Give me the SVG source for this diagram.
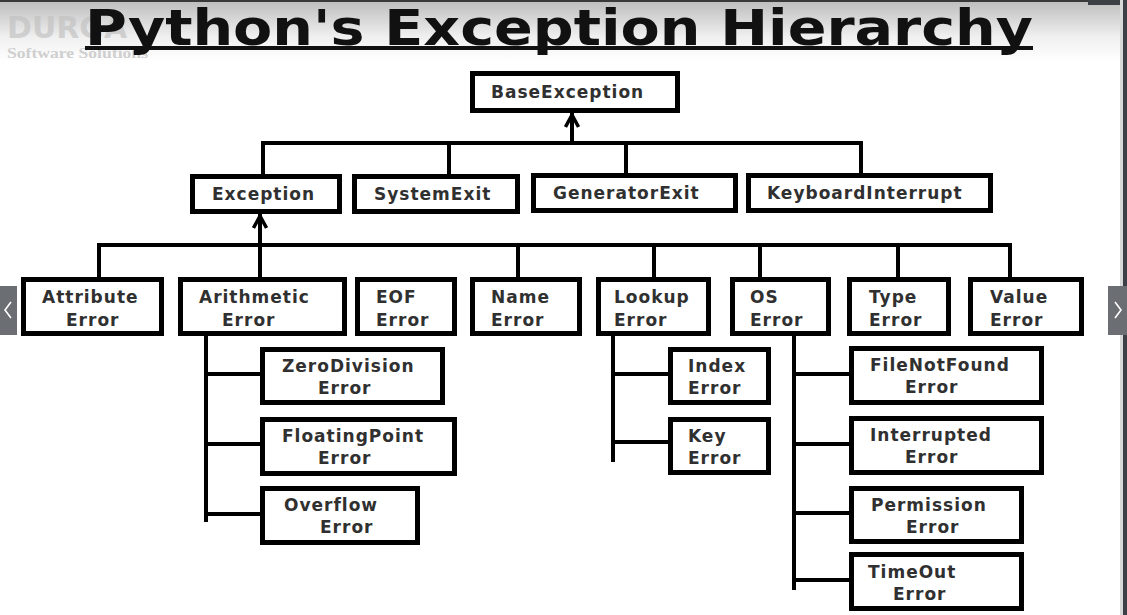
<svg xmlns="http://www.w3.org/2000/svg" width="1127" height="615" viewBox="0 0 1127 615">
<defs>
<linearGradient id="topg" x1="0" y1="0" x2="0" y2="1">
<stop offset="0" stop-color="#bcbcbc"/>
<stop offset="0.6" stop-color="#f0f0f0"/>
<stop offset="1" stop-color="#ffffff"/>
</linearGradient>
<marker id="arr" viewBox="0 0 16 16" markerWidth="16" markerHeight="16" markerUnits="userSpaceOnUse" refX="14" refY="8" orient="auto">
<path d="M2,1.5 L14,8 L2,14.5" fill="none" stroke="#000" stroke-width="3.5" stroke-linejoin="miter"/>
</marker>
<style>
.box{fill:#fff;stroke:#000;stroke-width:5}
.t{font-family:"DejaVu Sans","Liberation Sans",sans-serif;font-weight:bold;font-size:17px;letter-spacing:1px;fill:#303030}
.c{stroke:#000;stroke-width:4;fill:none;stroke-linecap:square}
.nav{fill:#6b6e73}
.chev{fill:none;stroke:#fff;stroke-width:1.6}
</style>
</defs>
<rect x="0" y="0" width="1127" height="615" fill="#fff"/>
<rect x="0" y="0" width="1127" height="62" fill="url(#topg)"/>
<rect x="0" y="0" width="1127" height="2" fill="#3a3a3a"/>
<rect x="1088" y="0" width="39" height="5" fill="#3c4046"/>
<rect x="1120" y="0" width="3" height="615" fill="#d8d8d8"/>
<rect x="1123" y="0" width="4" height="615" fill="#3c4046"/>

<g id="watermark">
<text x="7" y="38" font-family="DejaVu Sans, sans-serif" font-weight="bold" font-size="30" fill="#c2c2c2" fill-opacity="0.7">DURGA</text>
<text x="7" y="58" font-family="Liberation Serif, serif" font-weight="bold" font-size="14" fill="#cfcfcf" textLength="141" lengthAdjust="spacingAndGlyphs">Software Solutions</text>
</g>

<g id="title">
<text x="85" y="45" font-family="DejaVu Sans, Liberation Sans, sans-serif" font-weight="bold" font-size="50" fill="#111" textLength="948" lengthAdjust="spacingAndGlyphs">Python's Exception Hierarchy</text>
<rect x="85" y="46" width="948" height="4" fill="#111"/>
</g>

<g id="connectors">
<line class="c" x1="572" y1="142" x2="572" y2="115" marker-end="url(#arr)"/>
<polyline class="c" points="263,174 263,143 861,143 861,173"/>
<line class="c" x1="449" y1="143" x2="449" y2="174"/>
<line class="c" x1="626" y1="143" x2="626" y2="173"/>
<line class="c" x1="260" y1="245" x2="260" y2="216" marker-end="url(#arr)"/>
<polyline class="c" points="99,277 99,245 1010,245 1010,277"/>
<line class="c" x1="260" y1="245" x2="260" y2="277"/>
<line class="c" x1="518" y1="245" x2="518" y2="277"/>
<line class="c" x1="654" y1="245" x2="654" y2="277"/>
<line class="c" x1="760" y1="245" x2="760" y2="277"/>
<line class="c" x1="898" y1="245" x2="898" y2="277"/>
<line class="c" x1="206" y1="336" x2="206" y2="520"/>
<line class="c" x1="206" y1="374" x2="260" y2="374"/>
<line class="c" x1="206" y1="444" x2="260" y2="444"/>
<line class="c" x1="206" y1="514" x2="260" y2="514"/>
<line class="c" x1="613" y1="336" x2="613" y2="460"/>
<line class="c" x1="613" y1="374" x2="668" y2="374"/>
<line class="c" x1="613" y1="442" x2="668" y2="442"/>
<line class="c" x1="794" y1="336" x2="794" y2="588"/>
<line class="c" x1="794" y1="374" x2="849" y2="374"/>
<line class="c" x1="794" y1="444" x2="849" y2="444"/>
<line class="c" x1="794" y1="513" x2="849" y2="513"/>
<line class="c" x1="794" y1="580" x2="849" y2="580"/>
</g>

<g id="BaseException"><rect class="box" x="472.5" y="73.5" width="205" height="37"/><text class="t" x="491" y="98">BaseException</text></g>
<g id="Exception"><rect class="box" x="192.5" y="176.5" width="147" height="35"/><text class="t" x="212" y="200">Exception</text></g>
<g id="SystemExit"><rect class="box" x="354.5" y="176.5" width="163" height="35"/><text class="t" x="374" y="200">SystemExit</text></g>
<g id="GeneratorExit"><rect class="box" x="533.5" y="175.5" width="202" height="35"/><text class="t" x="553" y="199">GeneratorExit</text></g>
<g id="KeyboardInterrupt"><rect class="box" x="748.5" y="175.5" width="242" height="35"/><text class="t" x="767" y="199">KeyboardInterrupt</text></g>

<g id="AttributeError"><rect class="box" x="23.5" y="279.5" width="138" height="54"/><text class="t" x="42" y="303">Attribute</text><text class="t" x="66" y="326">Error</text></g>
<g id="ArithmeticError"><rect class="box" x="180.5" y="279.5" width="164" height="54"/><text class="t" x="199" y="303">Arithmetic</text><text class="t" x="222" y="326">Error</text></g>
<g id="EOFError"><rect class="box" x="357.5" y="279.5" width="97" height="54"/><text class="t" x="376" y="303">EOF</text><text class="t" x="376" y="326">Error</text></g>
<g id="NameError"><rect class="box" x="472.5" y="279.5" width="107" height="54"/><text class="t" x="491" y="303">Name</text><text class="t" x="491" y="326">Error</text></g>
<g id="LookupError"><rect class="box" x="598.5" y="279.5" width="110" height="54"/><text class="t" x="614" y="303">Lookup</text><text class="t" x="614" y="326">Error</text></g>
<g id="OSError"><rect class="box" x="732.5" y="279.5" width="96" height="54"/><text class="t" x="750" y="303">OS</text><text class="t" x="750" y="326">Error</text></g>
<g id="TypeError"><rect class="box" x="849.5" y="279.5" width="99" height="54"/><text class="t" x="869" y="303">Type</text><text class="t" x="869" y="326">Error</text></g>
<g id="ValueError"><rect class="box" x="970.5" y="279.5" width="111" height="54"/><text class="t" x="990" y="303">Value</text><text class="t" x="990" y="326">Error</text></g>

<g id="ZeroDivisionError"><rect class="box" x="262.5" y="349.5" width="180" height="53"/><text class="t" x="282" y="372">ZeroDivision</text><text class="t" x="318" y="394">Error</text></g>
<g id="FloatingPointError"><rect class="box" x="262.5" y="419.5" width="192" height="54"/><text class="t" x="282" y="442">FloatingPoint</text><text class="t" x="318" y="464">Error</text></g>
<g id="OverflowError"><rect class="box" x="262.5" y="488.5" width="155" height="54"/><text class="t" x="284" y="511">Overflow</text><text class="t" x="320" y="533">Error</text></g>
<g id="IndexError"><rect class="box" x="670.5" y="349.5" width="98" height="53"/><text class="t" x="688" y="372">Index</text><text class="t" x="688" y="394">Error</text></g>
<g id="KeyError"><rect class="box" x="670.5" y="419.5" width="98" height="53"/><text class="t" x="688" y="442">Key</text><text class="t" x="688" y="464">Error</text></g>
<g id="FileNotFoundError"><rect class="box" x="851.5" y="348.5" width="190" height="54"/><text class="t" x="870" y="371">FileNotFound</text><text class="t" x="905" y="393">Error</text></g>
<g id="InterruptedError"><rect class="box" x="851.5" y="418.5" width="190" height="54"/><text class="t" x="870" y="441">Interrupted</text><text class="t" x="905" y="463">Error</text></g>
<g id="PermissionError"><rect class="box" x="851.5" y="488.5" width="170" height="53"/><text class="t" x="871" y="511">Permission</text><text class="t" x="906" y="533">Error</text></g>
<g id="TimeOutError"><rect class="box" x="851.5" y="554.5" width="170" height="54"/><text class="t" x="868" y="578">TimeOut</text><text class="t" x="893" y="600">Error</text></g>

<g id="nav">
<rect class="nav" x="0" y="286" width="17" height="49"/>
<polyline class="chev" points="11,302 5,310 11,318"/>
<rect class="nav" x="1108" y="286" width="19" height="49"/>
<polyline class="chev" points="1115,302 1121,310 1115,318"/>
</g>
</svg>
